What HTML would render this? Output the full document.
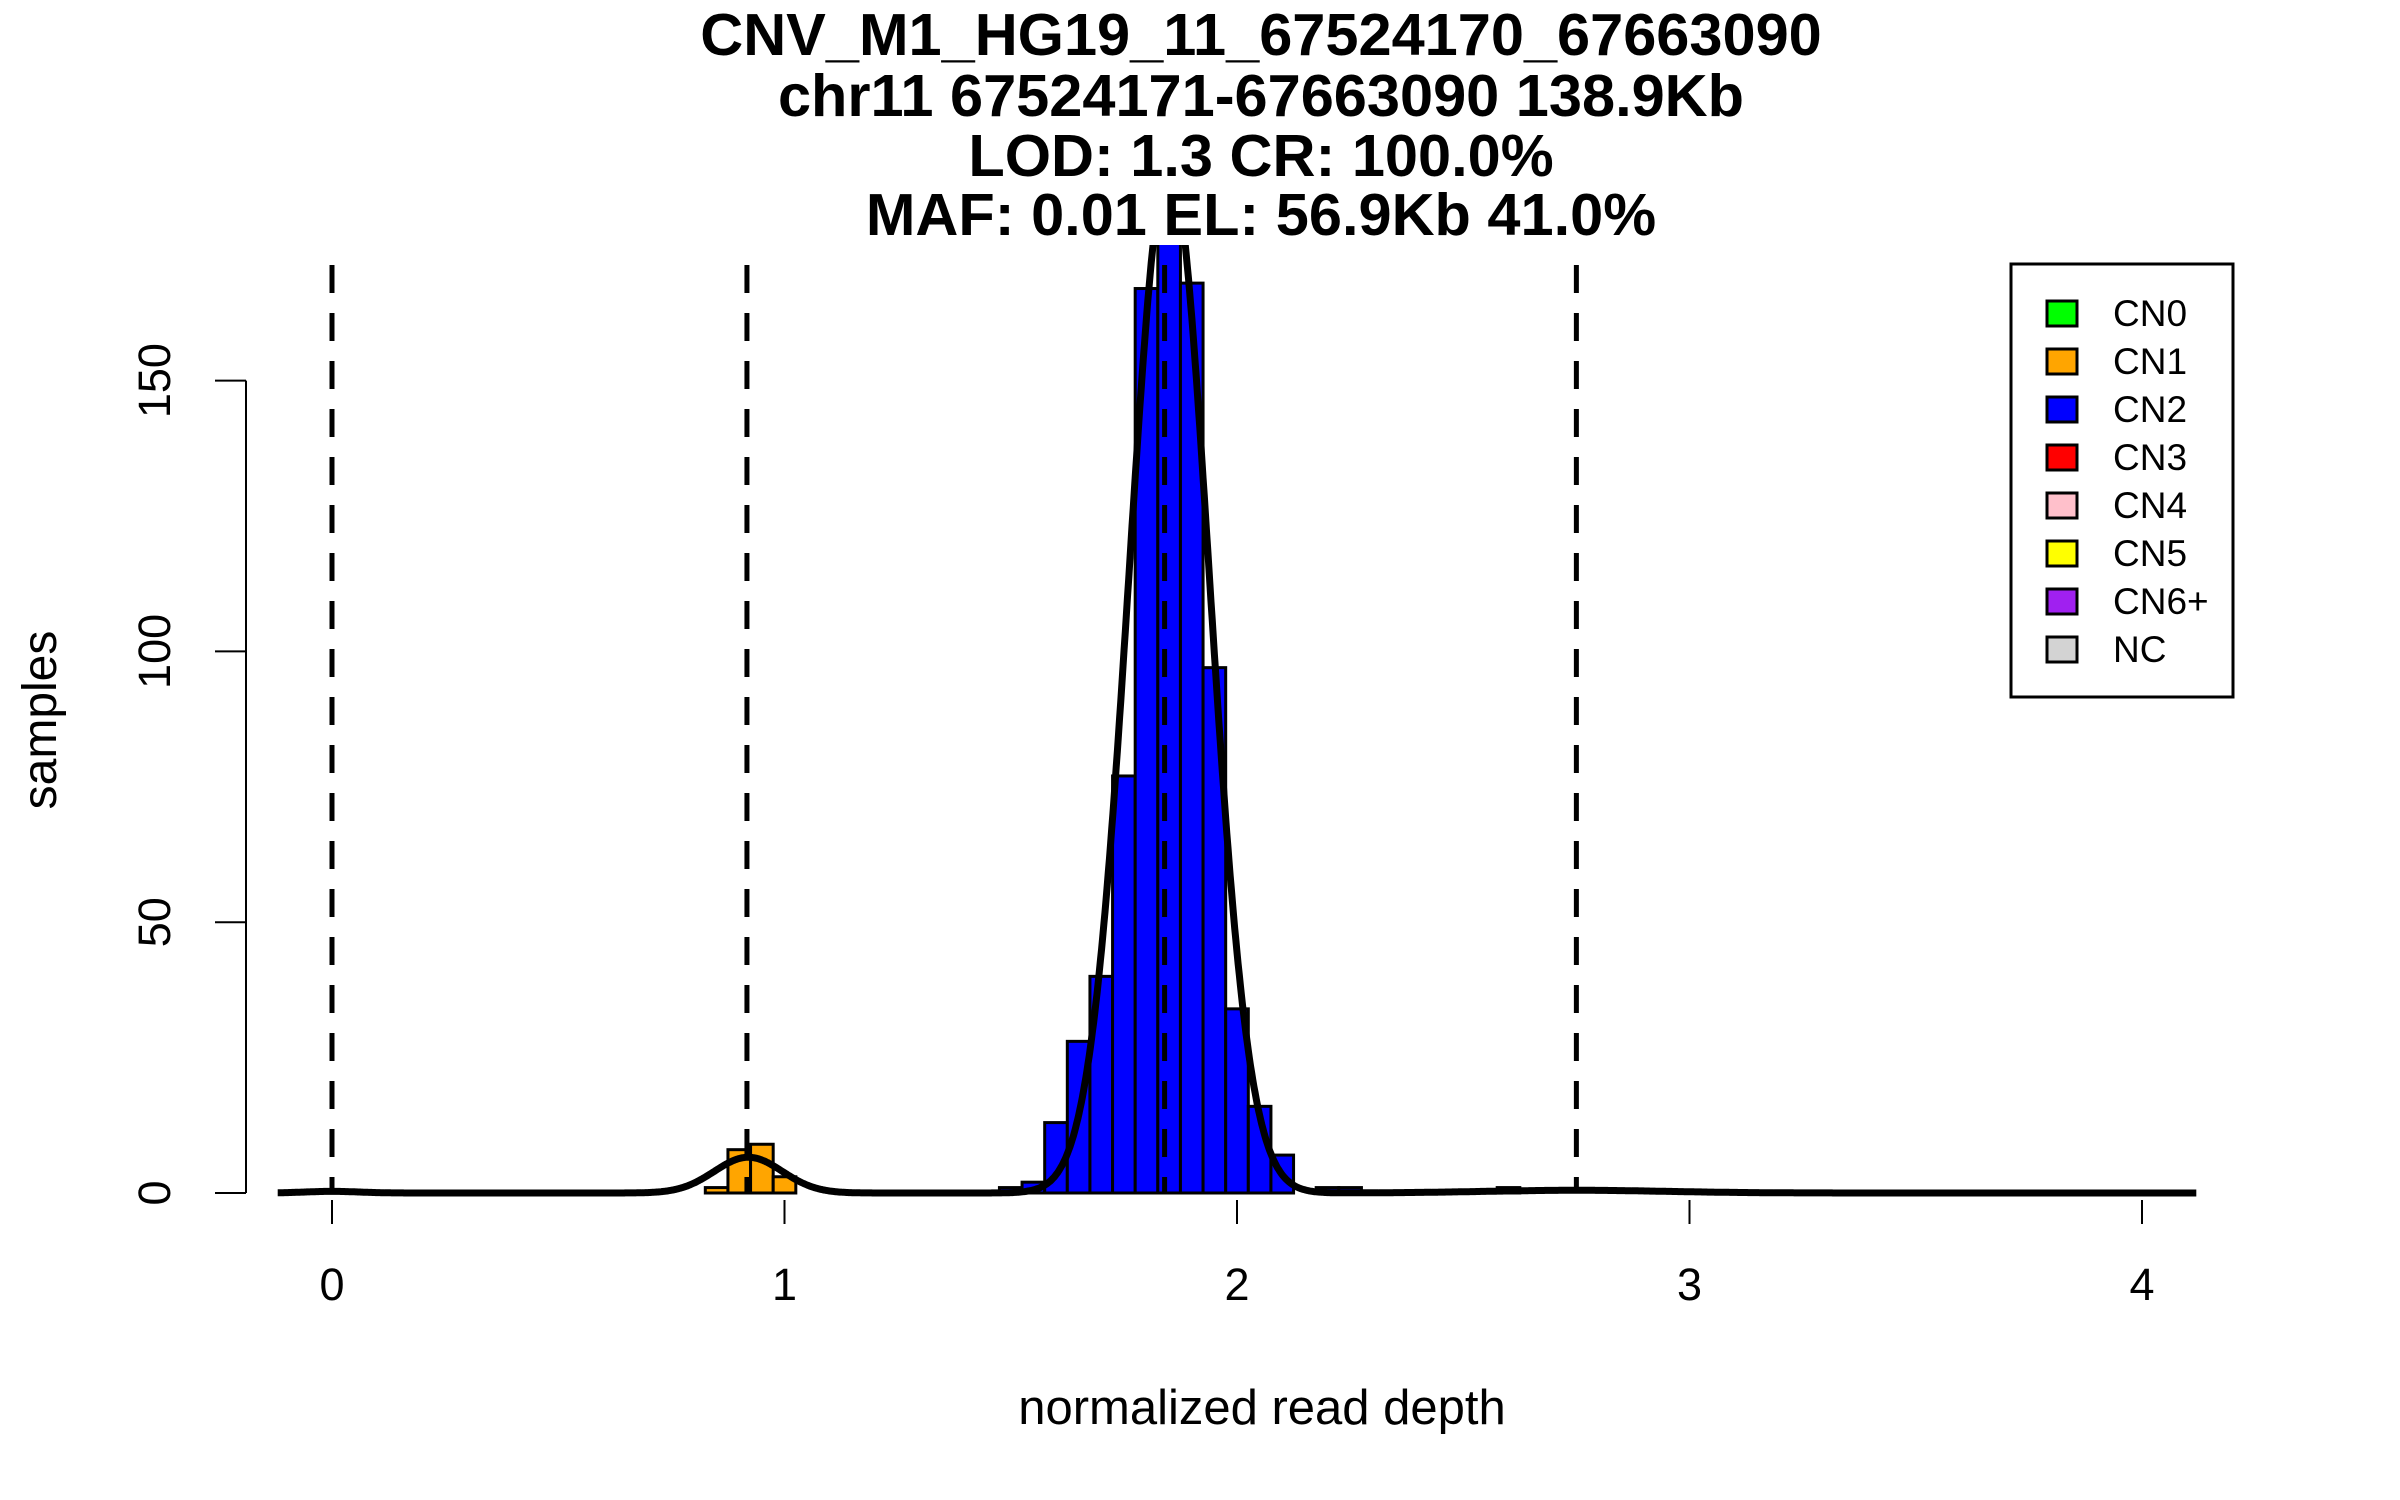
<!DOCTYPE html>
<html><head><meta charset="utf-8"><style>
html,body{margin:0;padding:0;background:#fff}
svg{display:block;font-family:"Liberation Sans",Arial,sans-serif}
</style></head><body>
<svg id="chart" width="2400" height="1500" viewBox="0 0 2400 1500" xmlns="http://www.w3.org/2000/svg">
<defs><clipPath id="plotclip"><rect x="260" y="245" width="1960" height="960"/></clipPath></defs>
<g font-weight="bold" font-size="59.5" text-anchor="middle">
<text x="1261" y="55">CNV_M1_HG19_11_67524170_67663090</text>
<text x="1261" y="116">chr11 67524171-67663090 138.9Kb</text>
<text x="1261" y="176">LOD: 1.3 CR: 100.0%</text>
<text x="1261" y="235">MAF: 0.01 EL: 56.9Kb 41.0%</text>
</g>
<g id="bars" clip-path="url(#plotclip)"></g>
<g id="curves" clip-path="url(#plotclip)"></g>
<g id="vlines"></g>
<g id="xaxis"></g>
<g id="yaxis"></g>
<text x="1262" y="1424" font-size="49" text-anchor="middle">normalized read depth</text>
<text x="0" y="0" font-size="48" text-anchor="middle" transform="translate(56,720) rotate(-90)">samples</text>
<g id="legend"></g>
</svg>
<script>
const NS="http://www.w3.org/2000/svg";
const cnBins=[0.85,0.9,0.95,1.0];
const cnCounts=[1,8,9,3];
const cn2Bins=[1.5,1.55,1.6,1.65,1.7,1.75,1.8,1.85,1.9,1.95,2.0,2.05,2.1,2.2,2.25];
const cn2Counts=[1,2,13,28,40,77,167,176,168,97,34,16,7,1,1];
const otherBins=[2.6];
const otherCounts=[1];
const xTicks=[0,1,2,3,4];
const yTicks=[0,50,100,150];
const cutoffs=[0,0.917,1.84,2.75];
const compMeans=[0,0.92,1.85,2.75];
const compSds=[0.06,0.075,0.088,0.2];
const compPeaks=[0.3,6.6,190,0.5];
const legendLabels=["CN0","CN1","CN2","CN3","CN4","CN5","CN6+","NC"];
const legendColors=["#00ff00","#ffa500","#0000ff","#ff0000","#ffc0cb","#ffff00","#a020f0","#d3d3d3"];
const binW=0.05;
const X=v=>332+v*452.5;
const Y=v=>1193-v*5.416;
function mk(tag,attrs,parent){const e=document.createElementNS(NS,tag);for(const k in attrs)e.setAttribute(k,attrs[k]);parent.appendChild(e);return e;}
const bars=document.getElementById('bars');
function drawBars(bins,counts,color,name){
  bins.forEach((b,i)=>{
    const x0=X(b-binW/2),x1=X(b+binW/2);
    const r=mk('rect',{x:x0,y:Y(counts[i]),width:x1-x0,height:Y(0)-Y(counts[i]),fill:color,stroke:'#000','stroke-width':3},bars);
    
    
  });
}
drawBars(cnBins,cnCounts,'#ffa500','cn1');
drawBars(cn2Bins,cn2Counts,'#0000ff','cn2');
drawBars(otherBins,otherCounts,'#0000ff','cn3');
const curves=document.getElementById('curves');
let d='';
for(let i=0;i<=1700;i++){
  const v=-0.12+i*(4.24/1700);
  let y=0;
  compMeans.forEach((m,k)=>{y+=compPeaks[k]*Math.exp(-0.5*((v-m)/compSds[k])**2);});
  d+=(i?'L':'M')+X(v).toFixed(1)+','+Y(y).toFixed(1);
}
const p=mk('path',{d:d,fill:'none',stroke:'#000','stroke-width':7,'stroke-linejoin':'round'},curves);


const vl=document.getElementById('vlines');
cutoffs.forEach(c=>{
  const l=mk('line',{x1:X(c),x2:X(c),y1:265,y2:1193,stroke:'#000','stroke-width':5,'stroke-dasharray':'28,20'},vl);
  
  
});
const xa=document.getElementById('xaxis');
xTicks.forEach(t=>{
  const l=mk('line',{x1:X(t),x2:X(t),y1:1200,y2:1224,stroke:'#000','stroke-width':2},xa);
  
  
  const tx=mk('text',{x:X(t),y:1300,'font-size':45,'text-anchor':'middle'},xa);
  tx.textContent=t;
  
  
});
const ya=document.getElementById('yaxis');
mk('line',{x1:246,x2:246,y1:Y(0),y2:Y(150),stroke:'#000','stroke-width':2},ya);
yTicks.forEach(t=>{
  const l=mk('line',{x1:215,x2:246,y1:Y(t),y2:Y(t),stroke:'#000','stroke-width':2},ya);
  
  
  const tx=mk('text',{x:0,y:0,'font-size':45,'text-anchor':'middle',transform:`translate(170,${Y(t)}) rotate(-90)`},ya);
  tx.textContent=t;
  
  
});
const lg=document.getElementById('legend');
mk('rect',{x:2011,y:264,width:222,height:433,fill:'#fff',stroke:'#000','stroke-width':3},lg);
legendLabels.forEach((lab,i)=>{
  const cy=313+i*48;
  const r=mk('rect',{x:2047,y:cy-12,width:30,height:25,fill:legendColors[i],stroke:'#000','stroke-width':3},lg);
  
  
  const tx=mk('text',{x:2113,y:cy+13,'font-size':37},lg);
  tx.textContent=lab;
  
  
});
</script>
</body></html>
